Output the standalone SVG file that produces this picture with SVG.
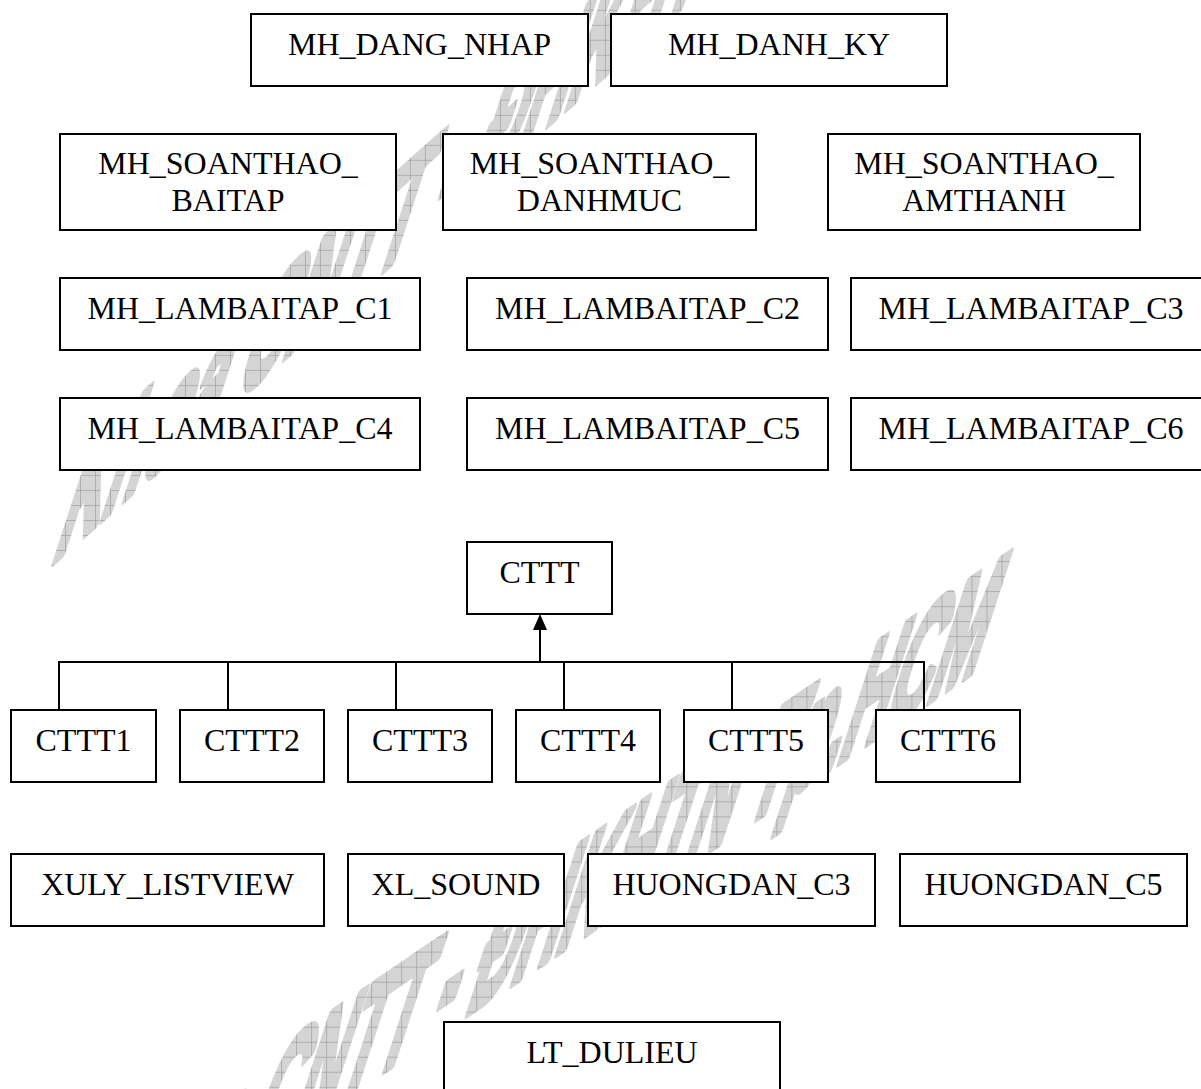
<svg xmlns="http://www.w3.org/2000/svg" width="1201" height="1089" viewBox="0 0 1201 1089">
  <defs>
    <style>
      .box { fill: #ffffff; stroke: #000000; stroke-width: 2; }
      .lbl { font-family: "Liberation Serif", "Times New Roman", serif; font-size: 32px; fill: #000000; text-anchor: middle; }
      .wire { fill: none; stroke: #000000; stroke-width: 2; }
      .wm { font-family: "Liberation Sans", Arial, sans-serif; font-weight: bold; font-size: 100px; stroke-width: 7; stroke-linejoin: round; }
    </style>
    <!-- hatched grey fill for the page watermark; transforms keep the grid upright on the page -->
    <pattern id="hatch1" width="15" height="15" patternUnits="userSpaceOnUse" patternTransform="matrix(2.129 0.725 0.692 0.820 0 0)">
      <rect width="15" height="15" fill="#d4d4d4"/>
      <path d="M0 0.4 H15 M0.4 0 V15" stroke="#a0a0a0" stroke-width="0.8"/>
    </pattern>
    <pattern id="hatch2" width="15" height="15" patternUnits="userSpaceOnUse" patternTransform="matrix(2.068 0.507 0.671 0.749 0 0)">
      <rect width="15" height="15" fill="#d4d4d4"/>
      <path d="M0 0.4 H15 M0.4 0 V15" stroke="#a0a0a0" stroke-width="0.8"/>
    </pattern>
  </defs>

  <rect width="1201" height="1089" fill="#ffffff"/>

  <!-- page watermark -->
  <g id="watermark">
    <text class="wm" fill="url(#hatch1)" stroke="url(#hatch1)" transform="matrix(0.659 -0.583 -0.556 1.712 50 565)">Khoa CNTT - ĐHKHTN Tp.HCM</text>
    <text class="wm" fill="url(#hatch2)" stroke="url(#hatch2)" transform="matrix(0.62 -0.42 -0.556 1.712 71 1282)">Khoa CNTT - ĐHKHTN Tp.HCM</text>
  </g>

  <!-- generalisation: CTTT1..CTTT6 -> CTTT -->
  <g id="connectors">
    <path class="wire" d="M59 710 V662 H924 V710"/>
    <path class="wire" d="M228 710 V662 M396 710 V662 M564 710 V662 M732 710 V662"/>
    <path class="wire" d="M540 662 V628"/>
    <path d="M540 614 L547 630 L533 630 Z" fill="#000000"/>
  </g>

  <!-- screens -->
  <g id="MH_DANG_NHAP"><rect class="box" x="251" y="14" width="337" height="72"/><text class="lbl" x="419.5" y="55">MH_DANG_NHAP</text></g>
  <g id="MH_DANH_KY"><rect class="box" x="611" y="14" width="336" height="72"/><text class="lbl" x="779" y="55">MH_DANH_KY</text></g>

  <g id="MH_SOANTHAO_BAITAP"><rect class="box" x="60" y="134" width="336" height="96"/><text class="lbl" x="228" y="174">MH_SOANTHAO_</text><text class="lbl" x="228" y="211">BAITAP</text></g>
  <g id="MH_SOANTHAO_DANHMUC"><rect class="box" x="443" y="134" width="313" height="96"/><text class="lbl" x="599.5" y="174">MH_SOANTHAO_</text><text class="lbl" x="599.5" y="211">DANHMUC</text></g>
  <g id="MH_SOANTHAO_AMTHANH"><rect class="box" x="828" y="134" width="312" height="96"/><text class="lbl" x="984" y="174">MH_SOANTHAO_</text><text class="lbl" x="984" y="211">AMTHANH</text></g>

  <g id="MH_LAMBAITAP_C1"><rect class="box" x="60" y="278" width="360" height="72"/><text class="lbl" x="240" y="319">MH_LAMBAITAP_C1</text></g>
  <g id="MH_LAMBAITAP_C2"><rect class="box" x="467" y="278" width="361" height="72"/><text class="lbl" x="647.5" y="319">MH_LAMBAITAP_C2</text></g>
  <g id="MH_LAMBAITAP_C3"><rect class="box" x="851" y="278" width="360" height="72"/><text class="lbl" x="1031" y="319">MH_LAMBAITAP_C3</text></g>

  <g id="MH_LAMBAITAP_C4"><rect class="box" x="60" y="398" width="360" height="72"/><text class="lbl" x="240" y="439">MH_LAMBAITAP_C4</text></g>
  <g id="MH_LAMBAITAP_C5"><rect class="box" x="467" y="398" width="361" height="72"/><text class="lbl" x="647.5" y="439">MH_LAMBAITAP_C5</text></g>
  <g id="MH_LAMBAITAP_C6"><rect class="box" x="851" y="398" width="360" height="72"/><text class="lbl" x="1031" y="439">MH_LAMBAITAP_C6</text></g>

  <!-- control classes -->
  <g id="CTTT"><rect class="box" x="467" y="542" width="145" height="72"/><text class="lbl" x="539.5" y="583">CTTT</text></g>
  <g id="CTTT1"><rect class="box" x="11" y="710" width="145" height="72"/><text class="lbl" x="83.5" y="751">CTTT1</text></g>
  <g id="CTTT2"><rect class="box" x="180" y="710" width="144" height="72"/><text class="lbl" x="252" y="751">CTTT2</text></g>
  <g id="CTTT3"><rect class="box" x="348" y="710" width="144" height="72"/><text class="lbl" x="420" y="751">CTTT3</text></g>
  <g id="CTTT4"><rect class="box" x="516" y="710" width="144" height="72"/><text class="lbl" x="588" y="751">CTTT4</text></g>
  <g id="CTTT5"><rect class="box" x="684" y="710" width="144" height="72"/><text class="lbl" x="756" y="751">CTTT5</text></g>
  <g id="CTTT6"><rect class="box" x="876" y="710" width="144" height="72"/><text class="lbl" x="948" y="751">CTTT6</text></g>

  <!-- helpers -->
  <g id="XULY_LISTVIEW"><rect class="box" x="11" y="854" width="313" height="72"/><text class="lbl" x="167.5" y="895">XULY_LISTVIEW</text></g>
  <g id="XL_SOUND"><rect class="box" x="348" y="854" width="216" height="72"/><text class="lbl" x="456" y="895">XL_SOUND</text></g>
  <g id="HUONGDAN_C3"><rect class="box" x="588" y="854" width="287" height="72"/><text class="lbl" x="731.5" y="895">HUONGDAN_C3</text></g>
  <g id="HUONGDAN_C5"><rect class="box" x="900" y="854" width="287" height="72"/><text class="lbl" x="1043.5" y="895">HUONGDAN_C5</text></g>

  <g id="LT_DULIEU"><rect class="box" x="444" y="1022" width="336" height="80"/><text class="lbl" x="612" y="1063">LT_DULIEU</text></g>
</svg>
